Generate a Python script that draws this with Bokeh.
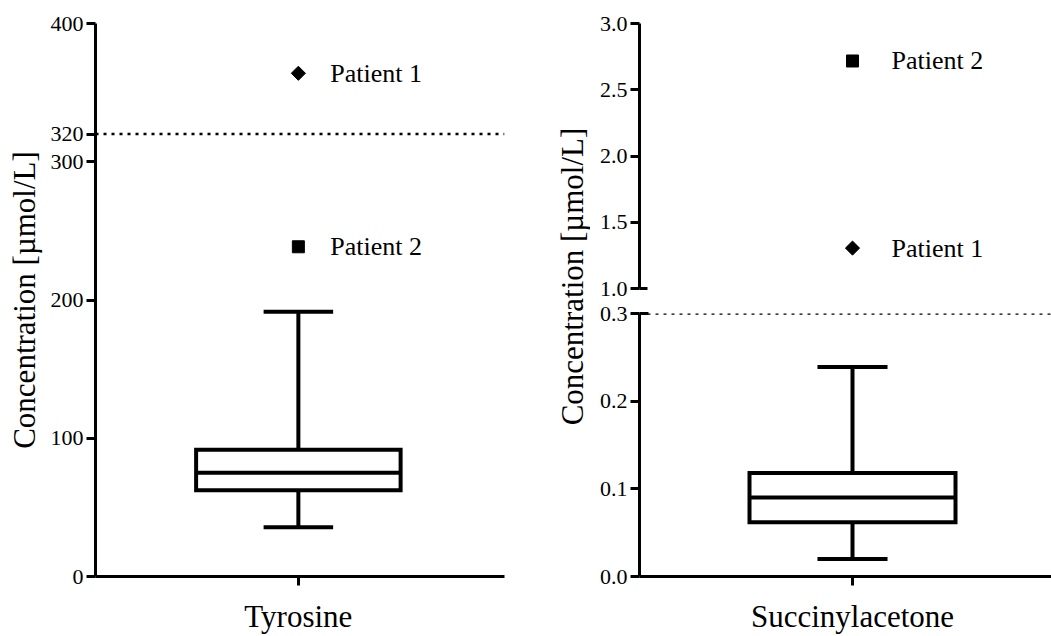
from math import pi
from bokeh.plotting import figure
from bokeh.layouts import row, column
from bokeh.models import Range1d, FixedTicker, Span, PrintfTickFormatter
from bokeh.core.properties import value
from bokeh.embed import file_html
from bokeh.resources import INLINE

FONT = "Liberation Serif"

# ---------------- data ----------------
categories = ["Tyrosine", "Succinylacetone"]
# [lower whisker, Q1, median, Q3, upper whisker]
tyr_box = [35.6, 62.3, 75.0, 91.7, 191.5]
sa_box = [0.02, 0.062, 0.09, 0.118, 0.239]
patients = ["Patient 1", "Patient 2"]
tyr_patients = [364, 238.5]
sa_patients = [1.305, 2.717]
tyr_ticks = [0, 100, 200, 300, 320, 400]
tyr_cutoff = 320
sa_cutoff = 0.3
sa_lower_ticks = [0.0, 0.1, 0.2, 0.3]
sa_upper_ticks = [1.0, 1.5, 2.0, 2.5, 3.0]
y_label = "Concentration [µmol/L]"

# ---------------- styles ----------------
BOX_W = 0.5
CAP_W = 0.17
LW = 4
AXW = 3
markers = ["square", "square"]
marker_angles = [pi / 4, 0]
marker_sizes = [10, 12]


def style_axis(ax):
    ax.axis_line_width = AXW
    ax.major_tick_line_width = AXW
    ax.minor_tick_line_width = AXW
    ax.major_tick_in = 0
    ax.major_tick_out = 9
    ax.minor_tick_in = 0
    ax.minor_tick_out = 0
    ax.major_label_text_font = FONT
    ax.major_label_text_font_size = "22px"
    ax.major_label_text_color = "black"
    ax.major_label_standoff = 3
    ax.axis_label_text_font = FONT
    ax.axis_label_text_font_size = "31px"
    ax.axis_label_text_font_style = "normal"
    ax.axis_label_text_color = "black"


def draw_box(p, x, stats):
    lo, q1, med, q3, hi = stats
    p.segment(x0=[x, x], y0=[q3, lo], x1=[x, x], y1=[hi, q1],
              line_color="black", line_width=LW)
    p.segment(x0=[x - CAP_W / 2, x - CAP_W / 2], y0=[hi, lo],
              x1=[x + CAP_W / 2, x + CAP_W / 2], y1=[hi, lo],
              line_color="black", line_width=LW)
    p.vbar(x=[x], width=BOX_W, bottom=[q1], top=[q3], fill_color="white",
           line_color="black", line_width=LW, line_join="miter")
    p.segment(x0=[x - BOX_W / 2], y0=[med], x1=[x + BOX_W / 2], y1=[med],
              line_color="black", line_width=LW)


def draw_patients(p, x, vals, idx, dx):
    for i in idx:
        p.scatter(x=[x], y=[vals[i]], marker=markers[i], angle=marker_angles[i],
                  size=marker_sizes[i], fill_color="black", line_color="black")
        p.text(x=[x], y=[vals[i]], text=[patients[i]], x_offset=dx,
               text_baseline="middle", text_align="left",
               text_font=value(FONT), text_font_size="26px", text_color="black")


def clean(p):
    p.grid.visible = False
    p.outline_line_color = None
    p.background_fill_color = "white"
    p.border_fill_color = "white"


def cutoff_span(loc):
    return Span(location=loc, dimension="width", line_color="black",
                line_width=2.5, line_dash="3 5")


# ---------------- left panel: Tyrosine ----------------
p1 = figure(width=530, height=636, x_range=Range1d(-0.496, 0.504),
            y_range=Range1d(0, 400), output_backend="svg", toolbar_location=None,
            min_border_left=95, min_border_right=26, min_border_top=23,
            min_border_bottom=59)
clean(p1)
style_axis(p1.xaxis[0])
style_axis(p1.yaxis[0])
p1.xaxis.ticker = FixedTicker(ticks=[0])
p1.xaxis.major_label_overrides = {0: categories[0]}
p1.xaxis.major_label_text_font_size = "31px"
p1.xaxis.major_label_standoff = 13
p1.yaxis.ticker = FixedTicker(ticks=tyr_ticks)
p1.yaxis.axis_label = y_label
p1.yaxis.axis_label_standoff = 6
p1.add_layout(cutoff_span(tyr_cutoff))
draw_box(p1, 0, tyr_box)
draw_patients(p1, 0, tyr_patients, [0, 1], 32)

# ---------------- label column for right panel ----------------
lab = figure(width=60, height=636, x_range=Range1d(0, 60), y_range=Range1d(0, 636),
             output_backend="svg", toolbar_location=None, min_border=0)
clean(lab)
lab.axis.visible = False
lab.text(x=[42], y=[345], text=[y_label], angle=pi / 2, text_align="center",
         text_baseline="middle", text_font=value(FONT), text_font_size="31px",
         text_color="black")

# ---------------- right panel: Succinylacetone (broken axis) ----------------
xr = Range1d(-0.517, 0.483)
pu = figure(width=461, height=301, x_range=xr, y_range=Range1d(1.0, 3.0),
            output_backend="svg", toolbar_location=None,
            min_border_left=49, min_border_right=0, min_border_top=23,
            min_border_bottom=13)
clean(pu)
pu.xaxis.visible = False
style_axis(pu.yaxis[0])
pu.yaxis.ticker = FixedTicker(ticks=sa_upper_ticks, minor_ticks=[sa_upper_ticks[0]])
pu.yaxis.minor_tick_in = 8
pu.yaxis.formatter = PrintfTickFormatter(format="%.1f")
draw_patients(pu, 0, sa_patients, [1, 0], 39)

pl = figure(width=461, height=335, x_range=xr, y_range=Range1d(0.0, 0.3),
            output_backend="svg", toolbar_location=None,
            min_border_left=49, min_border_right=0, min_border_top=12,
            min_border_bottom=59)
clean(pl)
style_axis(pl.xaxis[0])
style_axis(pl.yaxis[0])
pl.xaxis.ticker = FixedTicker(ticks=[0])
pl.xaxis.major_label_overrides = {0: categories[1]}
pl.xaxis.major_label_text_font_size = "31px"
pl.xaxis.major_label_standoff = 13
pl.yaxis.ticker = FixedTicker(ticks=sa_lower_ticks, minor_ticks=[sa_lower_ticks[-1]])
pl.yaxis.minor_tick_in = 9
pl.yaxis.formatter = PrintfTickFormatter(format="%.1f")
pl.add_layout(cutoff_span(sa_cutoff))
draw_box(pl, 0, sa_box)

layout = row(p1, lab, column(pu, pl))
open("out.html", "w").write(file_html(layout, INLINE))
